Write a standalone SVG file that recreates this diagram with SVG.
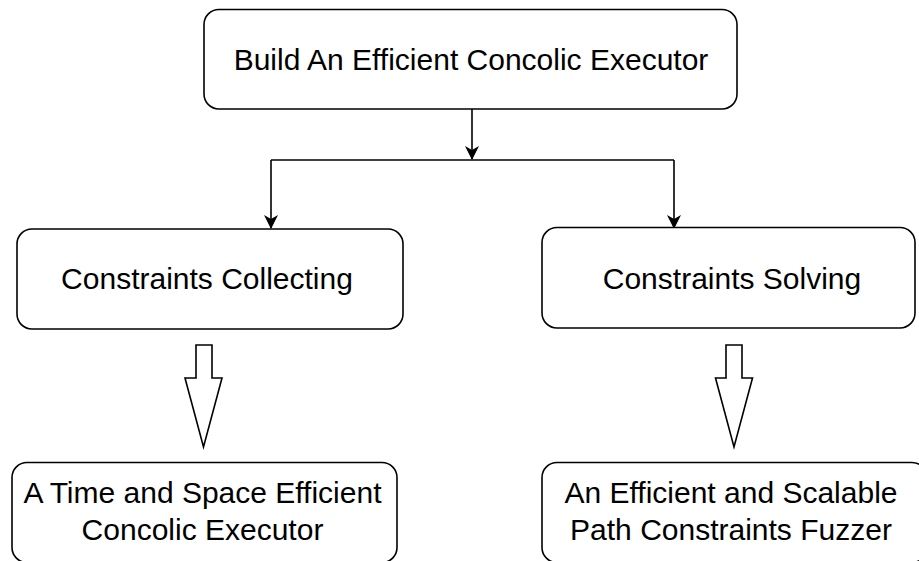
<svg xmlns="http://www.w3.org/2000/svg" width="919" height="561" viewBox="0 0 919 561">
<style>
.box{fill:#fff;stroke:#000;stroke-width:1.6}
.lbl{font-family:"Liberation Sans",Arial,sans-serif;font-size:30px;fill:#000;text-anchor:middle}
.edge{fill:none;stroke:#000;stroke-width:1.6}
.blk{fill:#fff;stroke:#000;stroke-width:1.6;stroke-linejoin:miter}
</style>
<defs>
<marker id="ah" viewBox="0 0 14 14" refX="13" refY="7" markerWidth="14" markerHeight="14" markerUnits="userSpaceOnUse" orient="auto">
<path d="M0,0 L14,7 L0,14 L4,7 Z" fill="#000"/>
</marker>
</defs>
<rect width="919" height="561" fill="#fff"/>
<g id="connectors">
<path class="edge" d="M472,109 V159" marker-end="url(#ah)"/>
<path class="edge" d="M271,160 H674"/>
<path class="edge" d="M271,160 V228" marker-end="url(#ah)"/>
<path class="edge" d="M674,160 V228" marker-end="url(#ah)"/>
<path class="blk" d="M196,345 H212 V378 H222 L203.5,447 L185,378 H196 Z"/>
<path class="blk" d="M726,345 H742 V378 H752.5 L734,447 L715.5,378 H726 Z"/>
</g>
<g id="root">
<rect class="box" x="204" y="9.5" width="533" height="99.5" rx="15" ry="15"/>
<text class="lbl" x="471" y="70">Build An Efficient Concolic Executor</text>
</g>
<g id="collect">
<rect class="box" x="17" y="229" width="386" height="100" rx="15" ry="15"/>
<text class="lbl" x="207" y="289">Constraints Collecting</text>
</g>
<g id="solve">
<rect class="box" x="542" y="227.5" width="373" height="100.5" rx="15" ry="15"/>
<text class="lbl" x="732" y="289">Constraints Solving</text>
</g>
<g id="executor">
<rect class="box" x="12" y="462.5" width="385" height="100" rx="15" ry="15"/>
<text class="lbl" x="202.5" y="503">A Time and Space Efficient</text>
<text class="lbl" x="202.5" y="540">Concolic Executor</text>
</g>
<g id="fuzzer">
<rect class="box" x="542" y="462.5" width="385" height="100" rx="15" ry="15"/>
<text class="lbl" x="731" y="503">An Efficient and Scalable</text>
<text class="lbl" x="731" y="540">Path Constraints Fuzzer</text>
</g>
</svg>
